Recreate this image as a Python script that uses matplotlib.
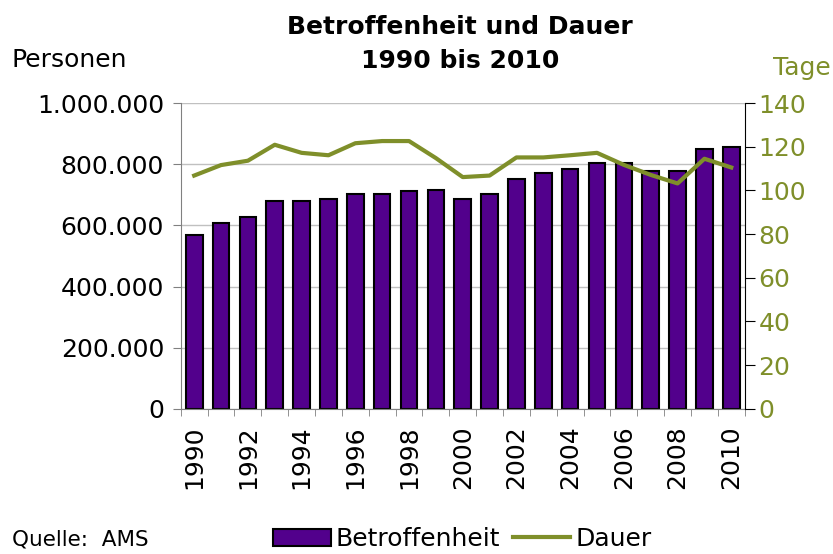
import numpy as np
import matplotlib.pyplot as plt

years = list(range(1990, 2011))
betroffenheit = [568000, 607000, 627000, 679000, 679000, 687000, 704000, 704000,
                 712000, 717000, 686000, 704000, 751000, 771000, 784000, 804000,
                 804000, 778000, 778000, 850000, 856000]
dauer = [106.8, 111.6, 113.6, 120.9, 117.2, 116.1, 121.6, 122.6, 122.6, 114.8,
         106.1, 106.8, 115.1, 115.1, 116.1, 117.2, 111.7, 107.1, 103.2, 114.5, 110.5]

purple = "#52008c"
olive = "#7f8f2a"

fig = plt.figure(figsize=(8.33, 5.54), dpi=100)
ax = fig.add_axes([0.217, 0.262, 0.677, 0.552])
x = np.arange(len(years))

ax.bar(x, betroffenheit, width=0.62, color=purple, edgecolor="black", linewidth=1.5,
       label="Betroffenheit", zorder=2)
ax.set_xlim(-0.5, len(years) - 0.5)
ax.set_ylim(0, 1000000)
ax.set_yticks(np.arange(0, 1000001, 200000))
ax.set_yticklabels([f"{v:,}".replace(",", ".") for v in range(0, 1000001, 200000)],
                   fontsize=18)
ax.yaxis.grid(True, color="#c0c0c0", linewidth=1, zorder=0)
ax.set_axisbelow(True)

ax.set_xticks(x)
ax.set_xticklabels([str(y) if y % 2 == 0 else "" for y in years], rotation=90, fontsize=18)
ax.tick_params(axis="x", length=0, pad=12)
ax.set_xticks(np.arange(-0.5, len(years), 1), minor=True)
ax.tick_params(axis="x", which="minor", length=5, color="#808080")
ax.tick_params(axis="y", length=6, pad=6, color="#808080")

ax.spines["top"].set_visible(False)
ax.spines["left"].set_color("#808080")
ax.spines["bottom"].set_color("#808080")
ax.spines["right"].set_visible(False)

ax2 = ax.twinx()
ax2.plot(x, dauer, color=olive, linewidth=3, label="Dauer")
ax2.set_ylim(0, 140)
ax2.set_yticks(np.arange(0, 141, 20))
ax2.tick_params(axis="y", labelsize=18, labelcolor=olive, length=7, pad=3, color="black")
ax2.spines["top"].set_visible(False)
ax2.spines["left"].set_visible(False)
ax2.spines["bottom"].set_visible(False)
ax2.spines["right"].set_color("black")

fig.text(0.552, 0.952, "Betroffenheit und Dauer", ha="center", va="center",
         fontsize=18, fontweight="bold")
fig.text(0.552, 0.89, "1990 bis 2010", ha="center", va="center",
         fontsize=18, fontweight="bold")
fig.text(0.014, 0.892, "Personen", ha="left", va="center", fontsize=18)
fig.text(0.997, 0.877, "Tage", ha="right", va="center", fontsize=18, color=olive)
fig.text(0.015, 0.027, "Quelle:  AMS", ha="left", va="center", fontsize=15.5)

h1, l1 = ax.get_legend_handles_labels()
h2, l2 = ax2.get_legend_handles_labels()
fig.legend(h1 + h2, l1 + l2, loc="center", bbox_to_anchor=(0.555, 0.027), ncol=2,
           frameon=False, fontsize=18, handlelength=2.3,
           handletextpad=0.2, columnspacing=0.5)

fig.savefig("out.png", dpi=100)
